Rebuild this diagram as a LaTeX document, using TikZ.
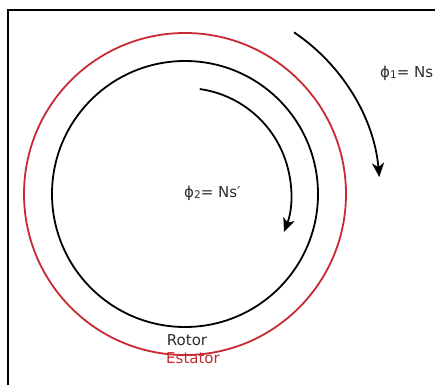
\documentclass[tikz,border=0pt]{standalone}
\usepackage{fontspec}
\setmainfont{DejaVu Sans}
\usetikzlibrary{arrows.meta}
\definecolor{statred}{RGB}{200,42,52}
\definecolor{txtgray}{RGB}{45,45,45}
\tikzset{
  ring/.style={line width=1.8pt},
  flux/.style={line width=1.8pt,-{Stealth[length=14pt,width=12pt,inset=4pt]}},
  lbl/.style={font=\fontsize{15}{16}\selectfont,text=txtgray,inner sep=0pt},
}
\newcommand{\sbx}[1]{\raisebox{-1.5pt}{\fontsize{10.5}{11}\selectfont #1}}
\begin{document}
\begin{tikzpicture}[x=1pt,y=1pt]
\useasboundingbox (0,0) rectangle (435,385);
\fill[white] (0,0) rectangle (435,385);
% frame
\draw[line width=2.2pt] (8,0) -- (8,375) -- (435,375);
% stator and rotor
\coordinate (c) at (185,191);
\draw[ring,statred] (c) circle[radius=161];
\draw[ring,black] (c) circle[radius=133];
% flux arrows
\draw[flux] ([shift={(56:195)}]c) arc[start angle=56,end angle=5,radius=195];
\draw[flux] ([shift={(82:106)}]c) arc[start angle=82,end angle=-21,radius=106];
% labels
\node[lbl,anchor=west] (phi1) at (380,312) {ϕ\sbx{1}= Ns};
\node[lbl,anchor=west] (phi2) at (184,192) {ϕ\sbx{2}= Ns′};
\node[lbl] (rotor) at (187,45) {Rotor};
\node[lbl,text=statred] (estator) at (193,27) {Estator};
\end{tikzpicture}
\end{document}
